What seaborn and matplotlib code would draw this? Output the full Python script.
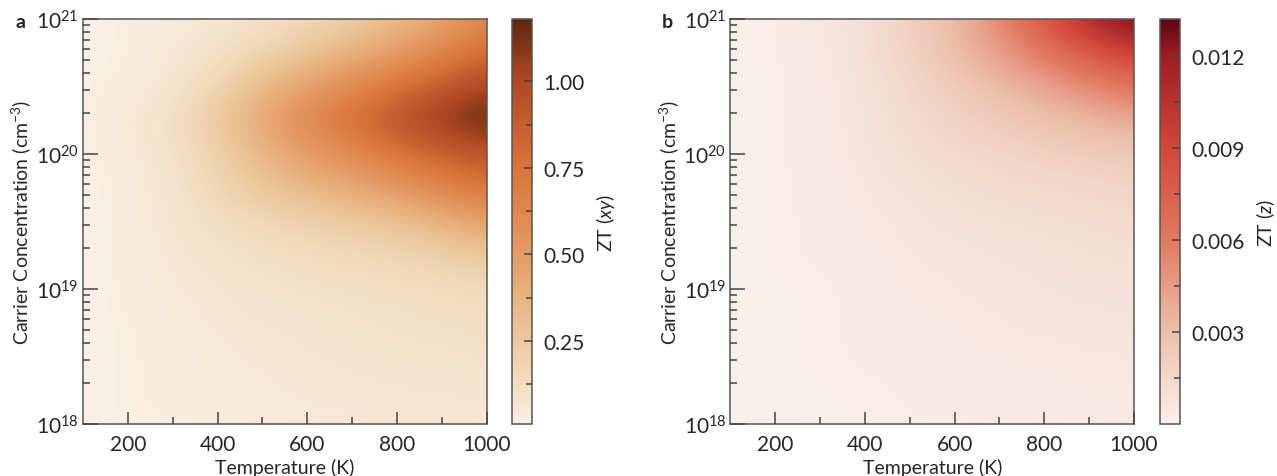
import numpy as np
import matplotlib
matplotlib.use("Agg")
import matplotlib.pyplot as plt
import seaborn as sns
from matplotlib.colors import LinearSegmentedColormap

sns.set_style("ticks")
plt.rcParams["font.family"] = ["Lato", "DejaVu Sans"]
plt.rcParams["mathtext.fontset"] = "custom"
plt.rcParams["mathtext.rm"] = "Lato"
plt.rcParams["mathtext.it"] = "Lato:italic"

# grid: temperature (K) and log10 carrier concentration (cm^-3)
temperature = [100, 200, 300, 400, 500, 600, 700, 800, 900, 1000]
log_conc = [18.0, 18.25, 18.5, 18.75, 19.0, 19.25, 19.5, 19.75, 20.0, 20.25, 20.5, 20.75, 21.0]

# ZT (xy), rows bottom (1e18) -> top (1e21)
zt_xy = [
    [0.00, 0.02, 0.02, 0.03, 0.04, 0.05, 0.05, 0.06, 0.06, 0.06],
    [0.00, 0.02, 0.03, 0.04, 0.05, 0.06, 0.06, 0.07, 0.07, 0.08],
    [0.00, 0.02, 0.03, 0.05, 0.06, 0.07, 0.08, 0.09, 0.09, 0.10],
    [0.00, 0.02, 0.04, 0.06, 0.07, 0.08, 0.09, 0.10, 0.11, 0.12],
    [0.00, 0.03, 0.05, 0.07, 0.09, 0.10, 0.11, 0.12, 0.13, 0.14],
    [0.00, 0.03, 0.06, 0.09, 0.11, 0.13, 0.15, 0.17, 0.20, 0.26],
    [0.00, 0.03, 0.07, 0.12, 0.16, 0.20, 0.24, 0.29, 0.38, 0.48],
    [0.00, 0.03, 0.08, 0.17, 0.27, 0.35, 0.43, 0.52, 0.64, 0.74],
    [0.01, 0.04, 0.09, 0.20, 0.35, 0.50, 0.60, 0.74, 0.85, 0.94],
    [0.01, 0.05, 0.11, 0.25, 0.44, 0.62, 0.78, 0.95, 1.08, 1.17],
    [0.01, 0.03, 0.07, 0.18, 0.34, 0.48, 0.62, 0.76, 0.90, 1.04],
    [0.00, 0.02, 0.05, 0.10, 0.18, 0.28, 0.38, 0.50, 0.64, 0.80],
    [0.00, 0.02, 0.04, 0.06, 0.10, 0.15, 0.22, 0.32, 0.45, 0.63],
]

# ZT (z), same grid
zt_z = [
    [0.0000, 0.0001, 0.0001, 0.0002, 0.0002, 0.0003, 0.0003, 0.0003, 0.0004, 0.0004],
    [0.0000, 0.0001, 0.0001, 0.0002, 0.0003, 0.0003, 0.0004, 0.0004, 0.0005, 0.0005],
    [0.0000, 0.0001, 0.0002, 0.0003, 0.0003, 0.0004, 0.0005, 0.0005, 0.0006, 0.0006],
    [0.0000, 0.0001, 0.0002, 0.0003, 0.0004, 0.0005, 0.0006, 0.0007, 0.0007, 0.0008],
    [0.0000, 0.0001, 0.0002, 0.0003, 0.0005, 0.0006, 0.0007, 0.0008, 0.0009, 0.0009],
    [0.0000, 0.0002, 0.0003, 0.0004, 0.0006, 0.0007, 0.0008, 0.0009, 0.0010, 0.0011],
    [0.0000, 0.0002, 0.0003, 0.0005, 0.0007, 0.0009, 0.0010, 0.0011, 0.0012, 0.0013],
    [0.0000, 0.0002, 0.0003, 0.0006, 0.0009, 0.0011, 0.0013, 0.0014, 0.0015, 0.0017],
    [0.0000, 0.0002, 0.0004, 0.0007, 0.0011, 0.0014, 0.0016, 0.0019, 0.0021, 0.0024],
    [0.0000, 0.0002, 0.0004, 0.0008, 0.0013, 0.0018, 0.0023, 0.0028, 0.0033, 0.0039],
    [0.0000, 0.0002, 0.0004, 0.0008, 0.0015, 0.0022, 0.0031, 0.0041, 0.0052, 0.0064],
    [0.0000, 0.0002, 0.0005, 0.0010, 0.0018, 0.0030, 0.0044, 0.0061, 0.0078, 0.0095],
    [0.0000, 0.0002, 0.0005, 0.0010, 0.0019, 0.0032, 0.0052, 0.0080, 0.0110, 0.0132],
]

cbar_ticks_xy = [0.25, 0.50, 0.75, 1.00]
cbar_ticks_z = [0.003, 0.006, 0.009, 0.012]

cmap_xy = LinearSegmentedColormap.from_list("zt_xy", [
    (0.0, "#f9efe2"), (0.2, "#eccba0"), (0.42, "#e49c64"),
    (0.63, "#d9753a"), (0.85, "#b04824"), (1.0, "#5e2710")])
cmap_z = LinearSegmentedColormap.from_list("zt_z", [
    (0.0, "#faf0ea"), (0.23, "#ebbfa9"), (0.45, "#e27a62"),
    (0.68, "#d2473a"), (0.91, "#9c1e24"), (1.0, "#5a0812")])

EDGE = "#555555"

fig = plt.figure(figsize=(12.77, 4.77), dpi=100)


def panel(ax_rect, cax_rect, data, cmap, vmin, vmax, ticks, minor, fmt, clabel, letter, lx):
    ax = fig.add_axes(ax_rect)
    cax = fig.add_axes(cax_rect)
    # smooth field: the image is resampled bicubically by matplotlib,
    # cell centres sit on the grid nodes
    dT = temperature[1] - temperature[0]
    dn = log_conc[1] - log_conc[0]
    ext = [temperature[0] - dT / 2, temperature[-1] + dT / 2,
           log_conc[0] - dn / 2, log_conc[-1] + dn / 2]
    im = ax.imshow(np.array(data), origin="lower", extent=ext, aspect="auto",
                   cmap=cmap, vmin=vmin, vmax=vmax, interpolation="bicubic",
                   interpolation_stage="data")
    ax.set_xlim(100, 1000)
    ax.set_ylim(18, 21)
    ax.set_axisbelow(False)

    ax.set_xticks([200, 400, 600, 800, 1000])
    ax.set_xticks([300, 500, 700, 900], minor=True)
    decades = [18, 19, 20, 21]
    ax.set_yticks(decades)
    ax.set_yticklabels([f"$10^{{{d}}}$" for d in decades])
    ax.set_yticks([d + np.log10(k) for d in decades[:-1] for k in range(2, 10)], minor=True)
    ax.tick_params(which="both", direction="in", color="#444444", labelsize=15, width=1.1)
    ax.tick_params(axis="x", which="major", length=9, pad=7)
    ax.tick_params(axis="x", which="minor", length=5)
    ax.tick_params(axis="y", which="major", length=11, pad=3)
    ax.tick_params(axis="y", which="minor", length=5)
    for s in ax.spines.values():
        s.set_color(EDGE)
        s.set_linewidth(1.1)
    ax.set_xlabel("Temperature (K)", fontsize=14, labelpad=3)
    ax.set_ylabel("Carrier Concentration (cm$^{-3}$)", fontsize=14, labelpad=2)

    cb = fig.colorbar(im, cax=cax)
    cb.outline.set_edgecolor(EDGE)
    cb.outline.set_linewidth(1.1)
    cb.set_ticks(ticks)
    cb.ax.set_yticks(minor, minor=True)
    cb.ax.set_yticklabels([fmt.format(t) for t in ticks])
    cax.set_axisbelow(False)
    cax.tick_params(which="both", direction="in", color="#444444", labelsize=15, width=1.1)
    cax.tick_params(which="major", length=6, pad=8)
    cax.tick_params(which="minor", length=4)
    cb.set_label(clabel, fontsize=14, labelpad=7)

    fig.text(lx, 0.952, letter, fontsize=14, fontweight="bold", ha="left", va="center")


panel([0.065, 0.109, 0.316, 0.849], [0.401, 0.109, 0.0157, 0.849],
      zt_xy, cmap_xy, 0.01, 1.18, cbar_ticks_xy,
      [0.125, 0.375, 0.625, 0.875, 1.125], "{:.2f}", r"ZT ($\mathit{xy}$)", "a", 0.012)
panel([0.572, 0.109, 0.316, 0.849], [0.908, 0.109, 0.0164, 0.849],
      zt_z, cmap_z, 0.0, 0.0132, cbar_ticks_z,
      [0.0015, 0.0045, 0.0075, 0.0105], "{:.3f}", r"ZT ($\mathit{z}$)", "b", 0.518)

plt.savefig("out.png", dpi=100)
plt.close()
